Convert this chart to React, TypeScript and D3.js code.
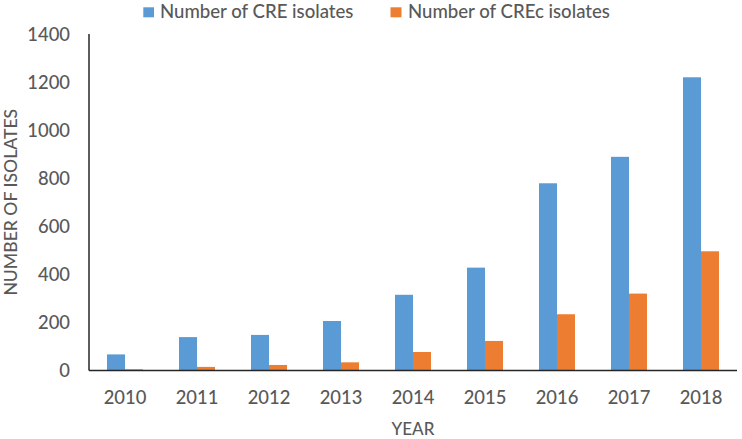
import React from "react";
import * as d3 from "d3";

const years = ["2010", "2011", "2012", "2013", "2014", "2015", "2016", "2017", "2018"];
const creValues = [67, 139, 148, 206, 315, 428, 779, 889, 1220];
const crecValues = [5, 15, 23, 34, 77, 123, 234, 320, 496];
const yTicks = [0, 200, 400, 600, 800, 1000, 1200, 1400];
const seriesNames = ["Number of CRE isolates", "Number of CREc isolates"];
const seriesColors = ["#5B9BD5", "#ED7D31"];

const W = 742;
const H = 439;
const M = { left: 89, right: 5, top: 34, bottom: 68.5 };
const FONT = "Lato, 'Open Sans', sans-serif";
const TEXT = "#595959";

export default function App() {
  const x = d3
    .scaleBand<string>()
    .domain(years)
    .range([M.left, W - M.right])
    .paddingInner(0.5)
    .paddingOuter(0.25);
  const x1 = d3.scaleBand<number>().domain([0, 1]).range([0, x.bandwidth()]);
  const y = d3.scaleLinear().domain([0, 1400]).range([H - M.bottom, M.top]);
  const series = [creValues, crecValues];

  return (
    <svg
      width={W}
      height={H}
      style={{ position: "absolute", left: 0, top: 0, background: "#fff" }}
      fontFamily={FONT}
      fontWeight={500}
    >
      {/* legend */}
      <g>
        <rect x={143.3} y={7.3} width={10.7} height={10} fill={seriesColors[0]} />
        <text x={160} y={17.5} fontSize={18.6} fill={TEXT}>
          {seriesNames[0]}
        </text>
        <rect x={390.5} y={7.3} width={11} height={10} fill={seriesColors[1]} />
        <text x={408} y={17.5} fontSize={18.6} fill={TEXT}>
          {seriesNames[1]}
        </text>
      </g>

      {/* bars */}
      {years.map((yr, i) => (
        <g key={yr}>
          {series.map((vals, s) => (
            <rect
              key={s}
              x={(x(yr) as number) + (x1(s) as number)}
              y={y(vals[i])}
              width={x1.bandwidth()}
              height={y(0) - y(vals[i])}
              fill={seriesColors[s]}
            />
          ))}
        </g>
      ))}

      {/* axes */}
      <line x1={M.left} x2={M.left} y1={y(1400)} y2={y(0)} stroke="#262626" strokeWidth={1.5} />
      <line x1={M.left} x2={W - M.right} y1={y(0)} y2={y(0)} stroke="#262626" strokeWidth={1.5} />

      {yTicks.map((t) => (
        <text
          key={t}
          x={70}
          y={y(t)}
          dy="0.36em"
          textAnchor="end"
          fontSize={18.4}
          fill={TEXT}
        >
          {t}
        </text>
      ))}

      {years.map((yr) => (
        <text
          key={yr}
          x={(x(yr) as number) + x.bandwidth() / 2}
          y={404}
          textAnchor="middle"
          fontSize={18.4}
          fill={TEXT}
        >
          {yr}
        </text>
      ))}

      <text x={(M.left + W - M.right) / 2} y={435} textAnchor="middle" fontSize={17} fill={TEXT}>
        YEAR
      </text>
      <text
        transform={`translate(16.5, ${(y(0) + y(1400)) / 2}) rotate(-90)`}
        textAnchor="middle"
        fontSize={17.6}
        fill={TEXT}
      >
        NUMBER OF ISOLATES
      </text>
    </svg>
  );
}
